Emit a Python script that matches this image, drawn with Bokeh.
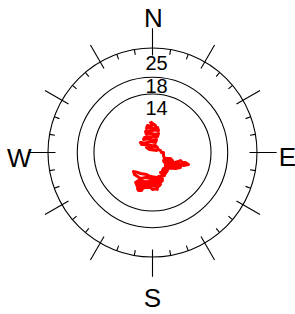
import math
from bokeh.plotting import figure
from bokeh.models import ColumnDataSource, Range1d
from bokeh.core.properties import value
from bokeh.embed import file_html
from bokeh.resources import INLINE

# ---------------- data ----------------
ring_values = [25, 18, 14]
ring_labels = ["25", "18", "14"]
directions = ["N", "E", "S", "W"]
direction_bearings = [0, 90, 180, 270]
major_tick_bearings = list(range(0, 360, 30))
minor_tick_bearings = [b for b in range(0, 360, 10) if b % 30 != 0]

walk_x = [-0.72, -0.30, 0.00, 0.40, 0.72, 0.20, -0.50, -1.20, -1.44, -0.60,
          0.30, 1.20, 1.44, 0.50, -0.70, -1.67, -1.44, -0.40, 0.60, 1.44,
          1.20, 0.10, -1.00, -1.91, -2.15, -1.00, 0.00, 0.96, 0.72, -0.50,
          -1.80, -2.87, -2.60, -2.39, -1.00, 0.00, 0.72, 1.20, 0.30, -0.60,
          -1.44, -0.72, 0.20, 0.96, 1.44, 1.91, 2.15, 2.63, 2.63, 2.87,
          3.35, 4.31, 4.78, 3.60, 2.63, 2.87, 4.20, 5.30, 6.22, 6.70,
          7.18, 7.89, 8.61, 7.42, 6.50, 5.74, 4.40, 3.11, 3.11, 4.80,
          6.70, 5.50, 4.00, 2.63, 2.39, 3.59, 3.11, 1.91, 2.87, 1.44,
          2.39, 1.00, -0.48, -1.44, -2.87, -3.80, -4.55, -4.31, -3.59, -2.87,
          -1.60, -0.48, 1.00, 2.39, 1.91, 0.40, -1.80, -3.35, -4.07, -2.50,
          -0.96, 0.60, 1.91, 1.44, -0.48, -1.44, -2.60, -3.83, -3.59, -1.67,
          -2.87, -3.59, -3.35, -2.63, -2.15, -0.48, 0.00, 1.20, 0.96]
walk_y = [6.94, 7.20, 6.94, 6.70, 6.46, 6.60, 6.30, 6.46, 5.74, 5.90,
          5.70, 5.98, 5.26, 5.40, 5.10, 5.02, 4.31, 4.60, 4.30, 4.55,
          3.83, 3.90, 3.60, 3.59, 3.11, 3.30, 3.00, 3.11, 2.39, 2.60,
          2.30, 2.39, 1.90, 1.91, 1.80, 1.60, 1.67, 1.20, 1.40, 1.10,
          1.20, 0.72, 0.60, 0.48, 0.72, 0.48, 0.00, 0.00, -0.72, -1.44,
          -1.44, -1.44, -1.91, -1.70, -1.91, -2.39, -2.20, -2.40, -2.15, -1.91,
          -2.39, -2.39, -2.87, -3.11, -2.80, -2.87, -3.00, -2.87, -3.35, -3.50,
          -3.59, -3.83, -3.70, -3.83, -4.31, -4.31, -5.02, -4.78, -5.50, -5.74,
          -6.22, -6.00, -5.74, -5.26, -5.02, -4.70, -4.55, -5.26, -5.74, -6.22,
          -6.00, -6.22, -6.50, -6.70, -7.18, -6.90, -7.00, -6.70, -7.18, -7.30,
          -7.42, -7.60, -7.66, -8.13, -7.89, -7.89, -7.70, -7.66, -8.13, -8.37,
          -8.61, -8.61, -9.09, -9.09, -8.37, -8.37, -8.85, -8.61, -9.09]

# ---------------- layout ----------------
W, H = 295, 314
PX = 4.18          # pixels per data unit
CX, CY = 152, 152  # centre inside the canvas (pixels)

p = figure(width=W, height=H, output_backend="svg", toolbar_location=None,
           x_range=Range1d(-CX / PX, (W - CX) / PX),
           y_range=Range1d(-(H - CY) / PX, CY / PX),
           x_axis_location=None, y_axis_location=None, min_border=0,
           background_fill_color="white", border_fill_color="white")
p.grid.visible = False
p.outline_line_color = None

# rings
p.circle(x=[0] * len(ring_values), y=[0] * len(ring_values), radius=ring_values,
         fill_color=None, line_color="black", line_width=1.1)


def seg(bearings, r0, r1):
    x0 = [r0 * math.sin(math.radians(b)) for b in bearings]
    y0 = [r0 * math.cos(math.radians(b)) for b in bearings]
    x1 = [r1 * math.sin(math.radians(b)) for b in bearings]
    y1 = [r1 * math.cos(math.radians(b)) for b in bearings]
    return dict(x0=x0, y0=y0, x1=x1, y1=y1)


outer = max(ring_values)
p.segment(source=ColumnDataSource(seg(major_tick_bearings, outer - 1.8, outer + 4.7)),
          x0="x0", y0="y0", x1="x1", y1="y1", line_color="black", line_width=1.1)
p.segment(source=ColumnDataSource(seg(minor_tick_bearings, outer, outer - 1.3)),
          x0="x0", y0="y0", x1="x1", y1="y1", line_color="black", line_width=1.1)

# random walk
p.line(walk_x, walk_y, line_color="red", line_width=3.0, line_join="round")

# ring labels
ring_label_r = [v - off for v, off in zip(ring_values, [3.6, 2.1, 3.3])]
p.text(x=[0.96] * len(ring_labels), y=ring_label_r, text=ring_labels,
       text_font=value("Liberation Sans"), text_font_size="20px",
       text_align="center", text_baseline="middle", text_color="black")

# compass letters
dir_pos = {"N": (0.2, 32.2), "E": (32.3, -1.0), "S": (0.0, -34.7), "W": (-31.9, -1.3)}
p.text(x=[dir_pos[d][0] for d in directions], y=[dir_pos[d][1] for d in directions],
       text=directions, text_font=value("Liberation Sans Narrow, Liberation Sans"),
       text_font_size="26px", text_align="center", text_baseline="middle",
       text_color="black")

open("out.html", "w").write(file_html(p, INLINE))
